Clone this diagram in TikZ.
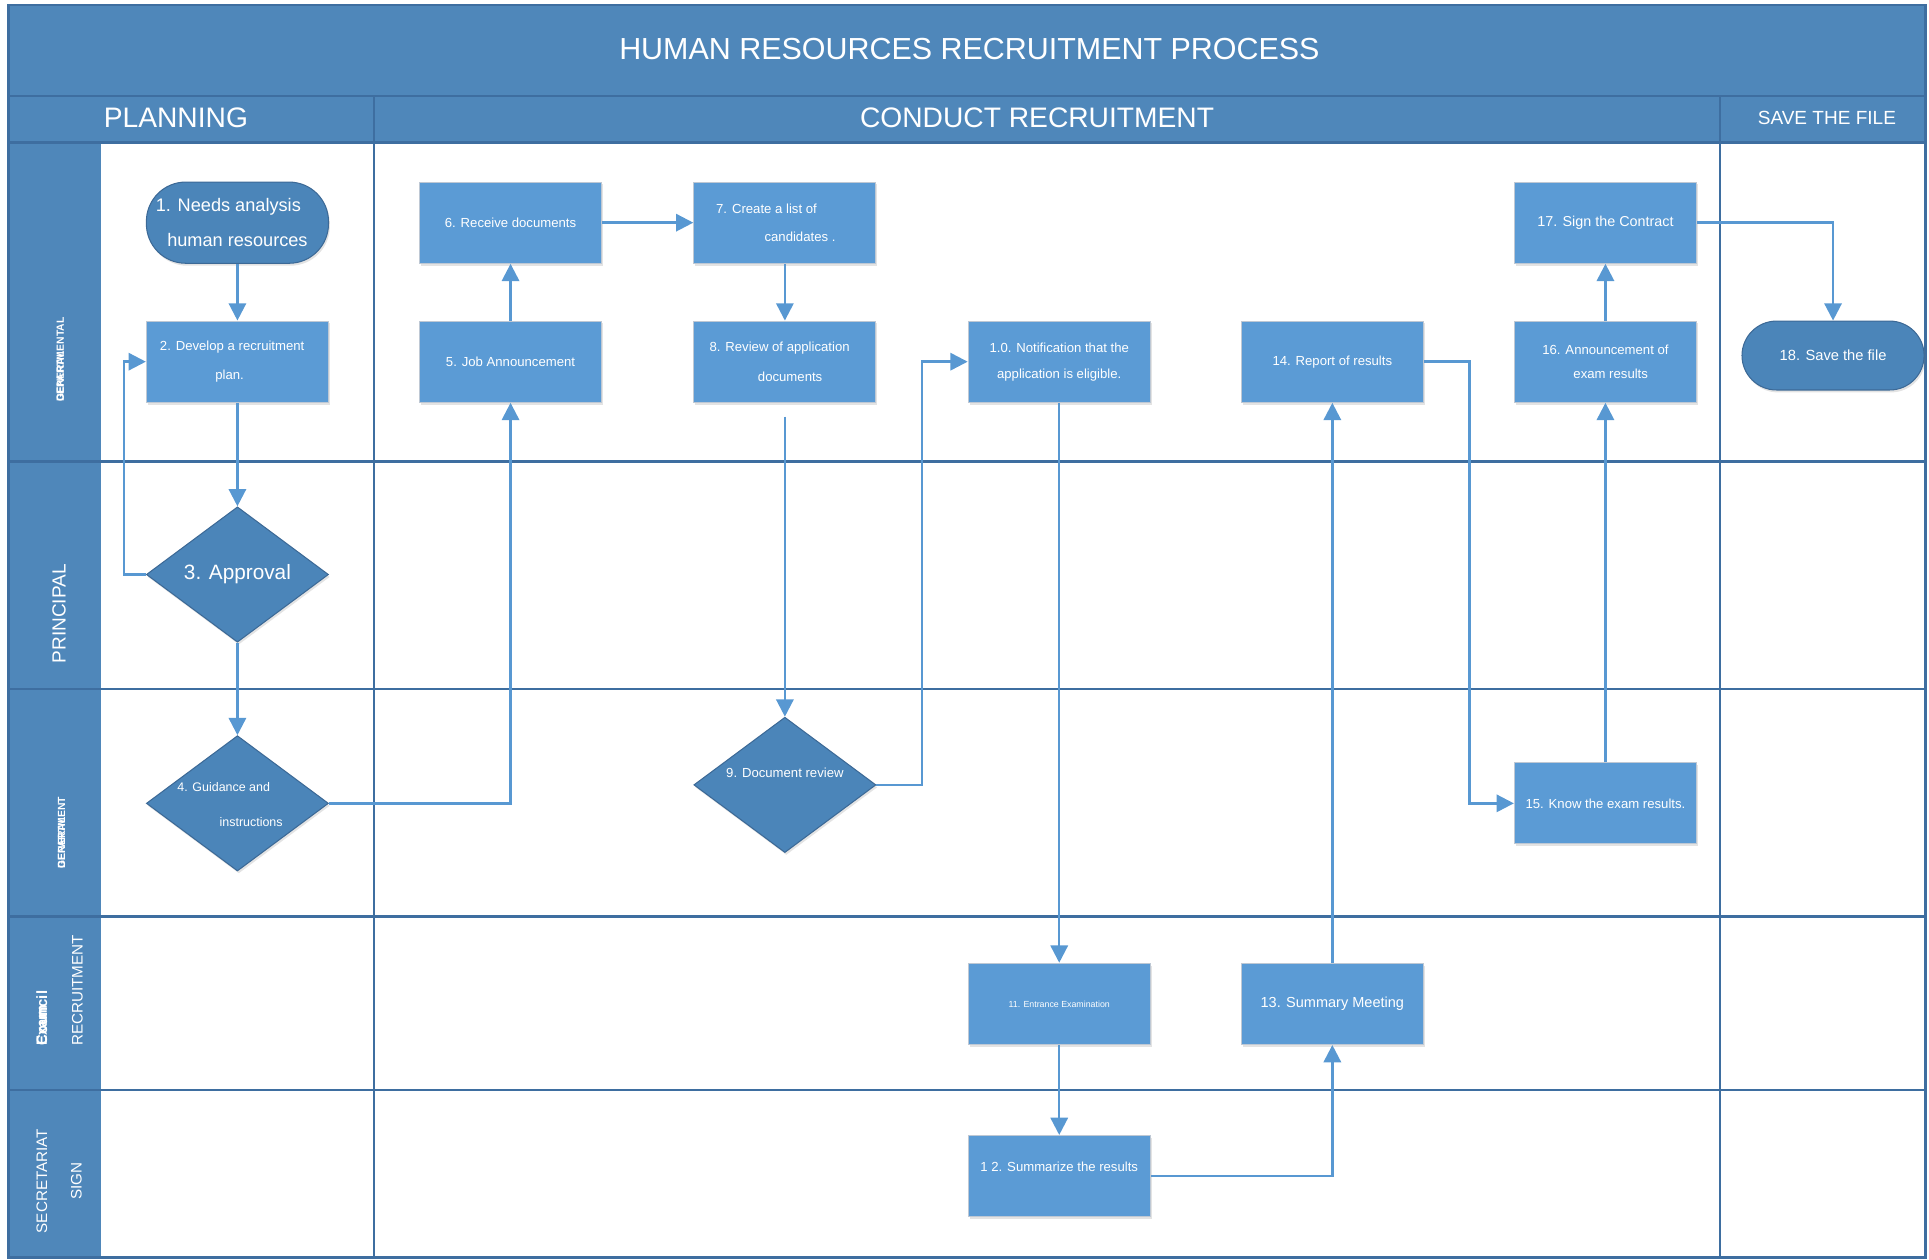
\documentclass[tikz,border=0pt]{standalone}
\usepackage{fontspec}
\setmainfont{Liberation Sans}
\usetikzlibrary{arrows.meta,shapes.geometric,shadows}

\definecolor{headblue}{RGB}{79,135,186}
\definecolor{gridblue}{RGB}{62,110,160}
\definecolor{boxblue}{RGB}{91,155,213}
\definecolor{boxedge}{RGB}{190,200,212}
\definecolor{darkblue}{RGB}{75,133,185}
\definecolor{darkedge}{RGB}{60,105,150}
\definecolor{linkblue}{RGB}{88,152,210}

\begin{document}
\begin{tikzpicture}[x=0.025cm,y=-0.025cm,font=\fontsize{7.6}{17}\selectfont,
  lane/.style={draw=gridblue,line width=1.4pt},
  box/.style={rectangle,draw=boxedge,line width=0.6pt,fill=boxblue,text=white,
    minimum width=3.7cm,minimum height=1.65cm,align=center,
    drop shadow={shadow xshift=0.8pt,shadow yshift=-1.4pt,opacity=0.22}},
  term/.style={box,draw=darkedge,fill=darkblue,rounded corners=0.8cm},
  choice/.style={diamond,draw=darkedge,line width=0.6pt,fill=darkblue,text=white,
    minimum width=3.7cm,minimum height=2.75cm,inner sep=0pt,align=center,
    drop shadow={shadow xshift=0.8pt,shadow yshift=-1.4pt,opacity=0.22}},
  flow/.style={draw=linkblue,line width=1.4pt,-{Triangle[width=10pt,length=10pt]}},
  head/.style={text=white,font=\fontsize{16.3}{18}\selectfont},
  side/.style={text=white,rotate=90,inner sep=0pt,font=\fontsize{8.8}{10}\selectfont},
  mash/.style={text=white,rotate=90,inner sep=0pt,anchor=west,font=\bfseries\fontsize{6}{7}\selectfont}]

\useasboundingbox (0,0) rectangle (1568,1024);

% bands and lanes
\fill[headblue] (7,4) rectangle (1565,116);
\fill[headblue] (7,116) rectangle (82,1022);
\draw[lane] (7,4) rectangle (1565,1022);
\draw[lane] (7,78) -- (1565,78);
\draw[lane] (7,116) -- (1565,116);
\foreach \y in {375,560,745,886}
  \draw[lane] (7,\y) -- (1565,\y);
\foreach \x in {304,1398}
  \draw[lane] (\x,78) -- (\x,1022);

\node[head,font=\fontsize{17.6}{20}\selectfont] (title) at (788,40) {HUMAN RESOURCES RECRUITMENT PROCESS};
\node[head] (planning) at (143,96) {PLANNING};
\node[head] (conduct) at (843,96) {CONDUCT RECRUITMENT};
\node[head,font=\fontsize{11}{12}\selectfont] (savefile) at (1485,96) {SAVE THE FILE};

% lane labels
\node[mash] (ga) at (49,327) {GENERAL};
\node[mash] (gb) at (49,327) {DEPARTMENTAL};
\node[side,font=\fontsize{11}{12}\selectfont] (principal) at (48,499) {PRINCIPAL};
\node[mash] (da) at (50,706) {GENERAL};
\node[mash] (db) at (50,706) {DEPARTMENT};
\node[side,anchor=west,font=\bfseries\fontsize{8.6}{10}\selectfont] (exa) at (34,850) {Exam};
\node[side,anchor=west,font=\bfseries\fontsize{8.6}{10}\selectfont] (exb) at (34,850) {Council};
\node[side] (recruit) at (63,805) {RECRUITMENT};
\node[side] (secret) at (34,960) {SECRETARIAT};
\node[side] (sign) at (62,960) {SIGN};

% steps
\node[term,font=\fontsize{10.5}{20.6}\selectfont] (n1) at (193,181) {1. Needs analysis\hspace{1em}\null\\human resources};
\node[box] (n2) at (193,294) {2. Develop a recruitment\hspace{0.8em}\null\\plan.\hspace{1.2em}\null};
\node[choice,font=\fontsize{12}{14}\selectfont] (n3) at (193,467) {3. Approval};
\node[choice,font=\fontsize{7.2}{20}\selectfont] (n4) at (193,653) {\raisebox{-1pt}[0pt][0pt]{\makebox[0pt]{\begin{tabular}{@{}c@{}}4. Guidance and\hspace{2.2em}\null\\\hspace{2.2em}instructions\end{tabular}}}};
\node[box] (n5) at (415,294) {5. Job Announcement};
\node[box] (n6) at (415,181) {6. Receive documents};
\node[box,font=\fontsize{7.6}{16}\selectfont] (n7) at (638,181) {7. Create a list of\hspace{2.8em}\null\\\hspace{2.3em}candidates .};
\node[box] (n8) at (638,294) {8. Review of application\hspace{0.8em}\null\\\hspace{0.8em}documents};
\node[choice] (n9) at (638,638) {\raisebox{4pt}[0pt][0pt]{\makebox[0pt]{9. Document review}}};
\node[box,font=\fontsize{7.6}{15}\selectfont] (n10) at (861,294) {1.0. Notification that the\\application is eligible.};
\node[box,font=\fontsize{5.1}{6}\selectfont] (n11) at (861,816) {11. Entrance Examination};
\node[box] (n12) at (861,956) {\raisebox{2.5pt}[0pt][0pt]{1 2. Summarize the results}};
\node[box,font=\fontsize{8.4}{10}\selectfont] (n13) at (1083,816) {13. Summary Meeting};
\node[box] (n14) at (1083,294) {14. Report of results};
\node[box] (n15) at (1305,653) {15. Know the exam results.};
\node[box,font=\fontsize{7.6}{14}\selectfont] (n16) at (1305,294) {16. Announcement of\\\hspace{0.8em}exam results};
\node[box,font=\fontsize{8.3}{10}\selectfont] (n17) at (1305,181) {17. Sign the Contract};
\node[term,minimum height=1.4cm,rounded corners=0.7cm,font=\fontsize{8.5}{10}\selectfont] (n18) at (1490,289) {18. Save the file};

% connectors
\draw[flow] (n1) -- (n2);
\draw[flow] (n2) -- (n3);
\draw[flow] (n3.west) -- ++(-18,0) |- (n2.west);
\draw[flow] (n3) -- (n4);
\draw[flow] (n4.east) -| (n5.south);
\draw[flow] (n5) -- (n6);
\draw[flow] (n6) -- (n7);
\draw[flow] (n7) -- (n8);
\draw[flow,shorten <=8pt] (n8) -- (n9);
\draw[flow] (n9.east) -- ++(37,0) |- (n10.west);
\draw[flow] (n10) -- (n11);
\draw[flow] (n11) -- (n12);
\draw[flow] (n12.east) -| (n13.south);
\draw[flow] (n13) -- (n14);
\draw[flow] (n14.east) -- ++(37,0) |- (n15.west);
\draw[flow] (n15) -- (n16);
\draw[flow] (n16) -- (n17);
\draw[flow] (n17.east) -| (n18.north);

\end{tikzpicture}
\end{document}
